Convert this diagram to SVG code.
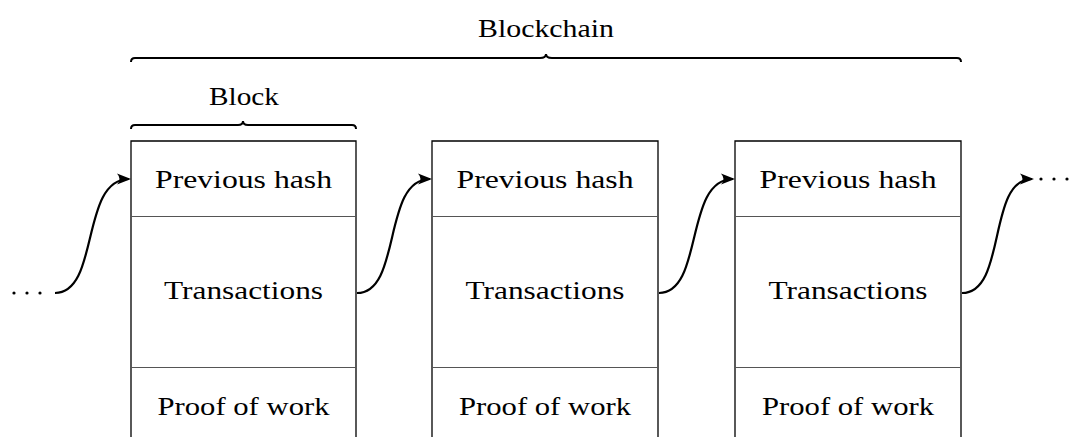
<svg xmlns="http://www.w3.org/2000/svg" width="1070" height="437" viewBox="0 0 1070 437">
  <style>
    .box { fill: none; stroke: #000; stroke-width: 1.3; }
    .div { stroke: #555; stroke-width: 1; }
    .lbl { font-family: "Liberation Serif", "DejaVu Serif", serif; font-size: 25px; fill: #000; text-anchor: middle; }
    .link { fill: none; stroke: #000; stroke-width: 2.2; marker-end: url(#tip); }
    .brace { fill: none; stroke: #000; stroke-width: 2; }
    .dot { fill: #000; }
  </style>
  <defs>
    <marker id="tip" viewBox="0 0 14 12" refX="12" refY="6" markerWidth="14" markerHeight="12" markerUnits="userSpaceOnUse" orient="auto" overflow="visible">
      <path d="M0,0.5 Q5,6 0,11.5 L14,6 Z" fill="#000"/>
    </marker>
  </defs>

  <!-- braces and captions -->
  <g id="chain-brace">
    <path class="brace" d="M131,62 Q131,58 135,58 L540,58 Q546,58 546,54 Q546,58 552,58 L957,58 Q961,58 961,62"/>
    <text class="lbl" x="546" y="37" textLength="136" lengthAdjust="spacingAndGlyphs">Blockchain</text>
  </g>
  <g id="block-brace">
    <path class="brace" d="M131,129 Q131,125 135,125 L238,125 Q243,125 243,121 Q243,125 248,125 L352,125 Q356,125 356,129"/>
    <text class="lbl" x="244" y="105" textLength="70" lengthAdjust="spacingAndGlyphs">Block</text>
  </g>

  <!-- block 1 -->
  <g id="block1">
    <path class="box" d="M131,450 L131,141 L356,141 L356,450"/>
    <line class="div" x1="131" y1="216.5" x2="356" y2="216.5"/>
    <line class="div" x1="131" y1="367.5" x2="356" y2="367.5"/>
    <text class="lbl" x="243.5" y="188" textLength="177" lengthAdjust="spacingAndGlyphs">Previous hash</text>
    <text class="lbl" x="243.5" y="299" textLength="159" lengthAdjust="spacingAndGlyphs">Transactions</text>
    <text class="lbl" x="243.5" y="415" textLength="172" lengthAdjust="spacingAndGlyphs">Proof of work</text>
  </g>

  <!-- block 2 -->
  <g id="block2">
    <path class="box" d="M432,450 L432,141 L658,141 L658,450"/>
    <line class="div" x1="432" y1="216.5" x2="658" y2="216.5"/>
    <line class="div" x1="432" y1="367.5" x2="658" y2="367.5"/>
    <text class="lbl" x="545" y="188" textLength="177" lengthAdjust="spacingAndGlyphs">Previous hash</text>
    <text class="lbl" x="545" y="299" textLength="159" lengthAdjust="spacingAndGlyphs">Transactions</text>
    <text class="lbl" x="545" y="415" textLength="172" lengthAdjust="spacingAndGlyphs">Proof of work</text>
  </g>

  <!-- block 3 -->
  <g id="block3">
    <path class="box" d="M735,450 L735,141 L961,141 L961,450"/>
    <line class="div" x1="735" y1="216.5" x2="961" y2="216.5"/>
    <line class="div" x1="735" y1="367.5" x2="961" y2="367.5"/>
    <text class="lbl" x="848" y="188" textLength="177" lengthAdjust="spacingAndGlyphs">Previous hash</text>
    <text class="lbl" x="848" y="299" textLength="159" lengthAdjust="spacingAndGlyphs">Transactions</text>
    <text class="lbl" x="848" y="415" textLength="172" lengthAdjust="spacingAndGlyphs">Proof of work</text>
  </g>

  <!-- ellipses at both ends -->
  <g id="dots-left">
    <circle class="dot" cx="14" cy="293" r="1.6"/>
    <circle class="dot" cx="27" cy="293" r="1.6"/>
    <circle class="dot" cx="40" cy="293" r="1.6"/>
  </g>
  <g id="dots-right">
    <circle class="dot" cx="1041" cy="179" r="1.6"/>
    <circle class="dot" cx="1054" cy="179" r="1.6"/>
    <circle class="dot" cx="1067" cy="179" r="1.6"/>
  </g>

  <!-- links between blocks -->
  <g id="connectors">
    <path class="link" d="M55,293 C100,293 80,179 129,179"/>
    <path class="link" d="M357,293 C402,293 382,179 430,179"/>
    <path class="link" d="M659,293 C704,293 684,179 733,179"/>
    <path class="link" d="M962,293 C1007,293 987,179 1032,179"/>
  </g>
</svg>
